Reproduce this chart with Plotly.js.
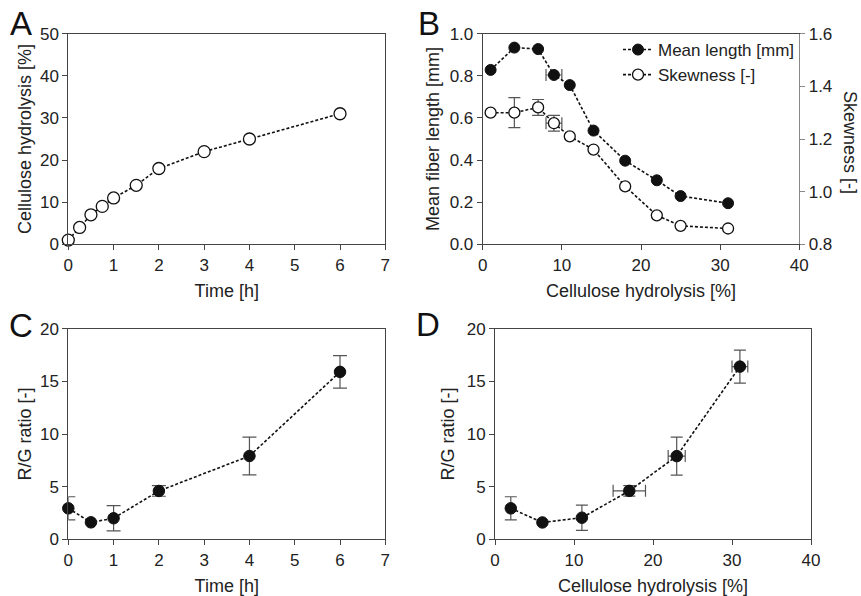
<!DOCTYPE html>
<html>
<head>
<meta charset="utf-8">
<script src="https://cdn.plot.ly/plotly-3.0.1.min.js"></script>
<style>html,body{margin:0;padding:0;background:#fff;}#chart{width:861px;height:596px;}</style>
</head>
<body>
<div id="chart"></div>
<script>
// Panel A
const timeA = [0, 0.25, 0.5, 0.75, 1, 1.5, 2, 3, 4, 6];
const hydrolysisA = [1, 4, 7, 9, 11, 14, 18, 22, 25, 31];
// Panel B
const hydrolysisB = [1, 4, 7, 9, 11, 14, 18, 22, 25, 31];
const meanLength = [0.828, 0.934, 0.927, 0.804, 0.756, 0.54, 0.397, 0.304, 0.229, 0.195];
const meanLengthXErr = [NaN, NaN, NaN, 1, NaN, NaN, NaN, NaN, NaN, NaN];
const skewness = [1.30, 1.30, 1.32, 1.26, 1.21, 1.16, 1.02, 0.91, 0.87, 0.86];
const skewnessErr = [NaN, 0.057, 0.03, 0.03, NaN, NaN, NaN, NaN, NaN, NaN];
const skewnessXErr = [NaN, NaN, NaN, 1, NaN, NaN, NaN, NaN, NaN, NaN];
// Panel C
const timeC = [0, 0.5, 1, 2, 4, 6];
const ratioC = [2.94, 1.61, 2.0, 4.59, 7.91, 15.9];
const ratioCErr = [1.1, NaN, 1.2, 0.5, 1.8, 1.55];
// Panel D
const hydrolysisD = [2, 6, 11, 17, 23, 31];
const ratioD = [2.94, 1.6, 2.05, 4.6, 7.9, 16.4];
const ratioDErr = [1.1, NaN, 1.2, 0.5, 1.8, 1.57];
const hydrolysisDErr = [NaN, NaN, NaN, 2.05, 1.08, 1.0];
// Labels
const panelLabels = ['A', 'B', 'C', 'D'];

const W = 861, H = 596;
const px = v => v / W;
const py = v => 1 - v / H;

const FONT = 'Liberation Sans, Arial, Helvetica, sans-serif';
const AXC = '#444';
const lineStyle = {color: '#111', width: 1.6, dash: '3px,2px'};
const errStyle = (arr) => ({type: 'data', array: arr, color: '#555', thickness: 1.2, width: 6});

const filled = size => ({symbol: 'circle', size: size, color: '#111', line: {color: '#111', width: 1}});
const open = size => ({symbol: 'circle', size: size, color: '#fff', line: {color: '#111', width: 1.3}});

const traces = [
  {x: timeA, y: hydrolysisA, xaxis: 'x', yaxis: 'y', mode: 'lines+markers', line: lineStyle,
   marker: open(12), cliponaxis: false, showlegend: false},
  {x: hydrolysisB, y: meanLength, xaxis: 'x2', yaxis: 'y2', mode: 'lines+markers', line: lineStyle,
   marker: filled(11), cliponaxis: false, name: 'Mean length [mm]',
   error_x: errStyle(meanLengthXErr)},
  {x: hydrolysisB, y: skewness, xaxis: 'x2', yaxis: 'y3', mode: 'lines+markers', line: lineStyle,
   marker: open(11), cliponaxis: false, name: 'Skewness [-]',
   error_y: errStyle(skewnessErr), error_x: errStyle(skewnessXErr)},
  {x: timeC, y: ratioC, xaxis: 'x3', yaxis: 'y4', mode: 'lines+markers', line: lineStyle,
   marker: filled(11.5), cliponaxis: false, showlegend: false,
   error_y: Object.assign(errStyle(ratioCErr), {width: 7})},
  {x: hydrolysisD, y: ratioD, xaxis: 'x4', yaxis: 'y5', mode: 'lines+markers', line: lineStyle,
   marker: filled(11.5), cliponaxis: false, showlegend: false,
   error_y: errStyle(ratioDErr), error_x: errStyle(hydrolysisDErr)}
];

const tickFont = {family: FONT, size: 17, color: '#222'};
const titleFont = {family: FONT, size: 18, color: '#222'};

function axis(extra) {
  return Object.assign({
    showline: true, linecolor: AXC, linewidth: 1, mirror: true,
    ticks: 'outside', ticklen: 5, tickwidth: 1, tickcolor: AXC,
    showgrid: false, zeroline: false, tickfont: tickFont, fixedrange: true
  }, extra);
}

const dxA = [px(68.3), px(385.3)];
const dxB = [px(482.7), px(799.3)];
const dxD = [px(495), px(811)];
const dyTop = [py(244.3), py(33.7)];
const dyBot = [py(539.3), py(328.7)];

const layout = {
  width: W, height: H,
  margin: {l: 0, r: 0, t: 0, b: 0},
  paper_bgcolor: '#fff', plot_bgcolor: '#fff',
  font: {family: FONT, color: '#222'},
  showlegend: true,
  legend: {x: px(618), y: py(32), xanchor: 'left', yanchor: 'top', bgcolor: 'rgba(0,0,0,0)',
           font: {family: FONT, size: 17, color: '#222'}},
  xaxis: axis({domain: dxA, anchor: 'y', range: [0, 7], dtick: 1,
               title: {text: 'Time [h]', font: titleFont, standoff: 10}}),
  yaxis: axis({domain: dyTop, anchor: 'x', range: [0, 50], dtick: 10,
               title: {text: 'Cellulose hydrolysis [%]', font: titleFont, standoff: 3}}),
  xaxis2: axis({domain: dxB, anchor: 'y2', range: [0, 40], dtick: 10,
                title: {text: 'Cellulose hydrolysis [%]', font: titleFont, standoff: 10}}),
  yaxis2: axis({domain: dyTop, anchor: 'x2', range: [0, 1.0], dtick: 0.2, tickformat: '.1f', mirror: false,
                title: {text: 'Mean fiber length [mm]', font: titleFont, standoff: 5}}),
  yaxis3: axis({domain: dyTop, anchor: 'x2', overlaying: 'y2', side: 'right', range: [0.8, 1.6], dtick: 0.2,
                tickformat: '.1f', mirror: false, linecolor: '#888', tickcolor: '#888'}),
  xaxis3: axis({domain: dxA, anchor: 'y4', range: [0, 7], dtick: 1,
                title: {text: 'Time [h]', font: titleFont, standoff: 10}}),
  yaxis4: axis({domain: dyBot, anchor: 'x3', range: [0, 20], dtick: 5,
                title: {text: 'R/G ratio [-]', font: titleFont, standoff: 3}}),
  xaxis4: axis({domain: dxD, anchor: 'y5', range: [0, 40], dtick: 10,
                title: {text: 'Cellulose hydrolysis [%]', font: titleFont, standoff: 10}}),
  yaxis5: axis({domain: dyBot, anchor: 'x4', range: [0, 20], dtick: 5,
                title: {text: 'R/G ratio [-]', font: titleFont, standoff: 7}}),
  annotations: [
    {text: 'Skewness [-]', xref: 'paper', yref: 'paper', x: px(850), y: py(142), textangle: 90,
     showarrow: false, font: titleFont, xanchor: 'center', yanchor: 'middle'},
    {text: panelLabels[0], xref: 'paper', yref: 'paper', x: px(21), y: py(24), showarrow: false,
     font: {family: FONT, size: 33, color: '#111'}, xanchor: 'center', yanchor: 'middle'},
    {text: panelLabels[1], xref: 'paper', yref: 'paper', x: px(429), y: py(24), showarrow: false,
     font: {family: FONT, size: 33, color: '#111'}, xanchor: 'center', yanchor: 'middle'},
    {text: panelLabels[2], xref: 'paper', yref: 'paper', x: px(21), y: py(325), showarrow: false,
     font: {family: FONT, size: 33, color: '#111'}, xanchor: 'center', yanchor: 'middle'},
    {text: panelLabels[3], xref: 'paper', yref: 'paper', x: px(428), y: py(324), showarrow: false,
     font: {family: FONT, size: 33, color: '#111'}, xanchor: 'center', yanchor: 'middle'}
  ]
};

Plotly.newPlot('chart', traces, layout, {displayModeBar: false, staticPlot: true});
</script>
</body>
</html>
